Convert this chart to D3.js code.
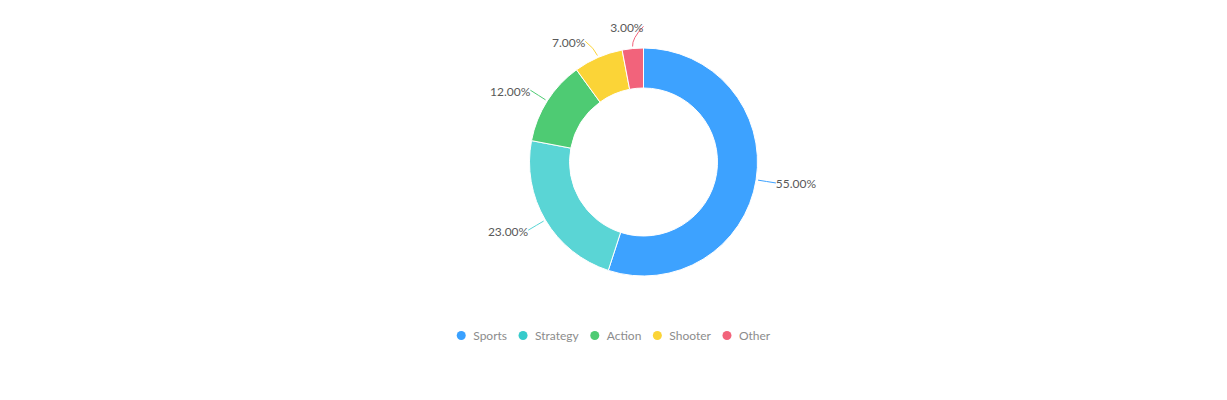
<!DOCTYPE html>
<html>
<head>
<meta charset="utf-8">
<script src="https://cdn.jsdelivr.net/npm/d3@7"></script>
<style>
body { margin: 0; background: #fff; }
text { font-family: "Segoe UI", Lato, "Noto Sans", sans-serif; }
</style>
</head>
<body>
<div id="chart"></div>
<script>
// data
var categories = ["Sports", "Strategy", "Action", "Shooter", "Other"];
var shares = [55, 23, 12, 7, 3];
var sliceColors = ["#3DA2FF", "#5AD5D5", "#4ECB73", "#FBD437", "#F2637B"];
var legendColors = ["#3AA1FF", "#36CBCB", "#4ECB73", "#FBD437", "#F2637B"];

var width = 1227, height = 400;
var cx = 643.5, cy = 162;
var outerR = 114, innerR = 74;
var labelR = 134;

var svg = d3.select("#chart").append("svg")
    .attr("width", width).attr("height", height);

var data = categories.map(function(c, i){ return {name: c, value: shares[i], idx: i}; });

var pie = d3.pie().sort(null).value(function(d){ return d.value; });
var arc = d3.arc().innerRadius(innerR).outerRadius(outerR);
var arcs = pie(data);

var g = svg.append("g").attr("transform", "translate(" + cx + "," + cy + ")");

g.selectAll("path.slice").data(arcs).enter().append("path")
    .attr("class", "slice")
    .attr("d", arc)
    .attr("fill", function(d){ return sliceColors[d.data.idx]; })
    .attr("stroke", "#fff")
    .attr("stroke-width", 1);

// label positions
var labels = arcs.map(function(d){
    var a = (d.startAngle + d.endAngle) / 2;
    return {d: d, a: a, x: labelR * Math.sin(a), y: -labelR * Math.cos(a), right: Math.sin(a) >= 0};
});

// push apart overlapping labels on each side, then put x back on the circle
var gap = 15;
[true, false].forEach(function(side){
    var ls = labels.filter(function(l){ return l.right == side; }).sort(function(a, b){ return a.y - b.y; });
    for(var it = 0; it < 20; it++)
    {
        for(var i = 1; i < ls.length; i++)
        {
            var diff = ls[i].y - ls[i-1].y;
            if(diff < gap)
            {
                var m = (gap - diff) / 2;
                ls[i].y += m;
                ls[i-1].y -= m;
            }
        }
    }
    ls.forEach(function(l){
        var dx = Math.sqrt(Math.max(0, labelR * labelR - l.y * l.y));
        l.x = side ? dx : -dx;
    });
});

g.selectAll("path.lline").data(labels).enter().append("path")
    .attr("class", "lline")
    .attr("fill", "none")
    .attr("stroke", function(l){ return sliceColors[l.d.data.idx]; })
    .attr("stroke-width", 1)
    .attr("d", function(l){
        var r0 = outerR + 2, r1 = outerR + 10;
        var p = d3.path();
        p.moveTo(r0 * Math.sin(l.a), -r0 * Math.cos(l.a));
        p.quadraticCurveTo(r1 * Math.sin(l.a), -r1 * Math.cos(l.a), l.x, l.y);
        return p.toString();
    });

g.selectAll("text.lbl").data(labels).enter().append("text")
    .attr("class", "lbl")
    .attr("x", function(l){ return l.x; })
    .attr("y", function(l){ return l.y; })
    .attr("dy", "0.45em")
    .attr("text-anchor", function(l){ return l.right ? "start" : "end"; })
    .attr("font-size", 12)
    .attr("fill", "#595959")
    .text(function(l){ return d3.format(".2f")(l.d.data.value) + "%"; });

// legend, centred on the page
var legend = svg.append("g").attr("class", "legend");
var items = legend.selectAll("g.item").data(data).enter().append("g").attr("class", "item");
items.append("circle")
    .attr("r", 4.5)
    .attr("fill", function(d){ return legendColors[d.idx]; });
items.append("text")
    .attr("x", 12)
    .attr("dy", "0.4em")
    .attr("font-size", 12)
    .attr("fill", "#8C8C8C")
    .text(function(d){ return d.name; });

var xpos = 0;
items.each(function(d){
    var w = d3.select(this).select("text").node().getComputedTextLength();
    d3.select(this).attr("transform", "translate(" + xpos + ",0)");
    xpos += 12 + w + 16;
});
var total = xpos - 16 + 4.5;
legend.attr("transform", "translate(" + (width / 2 - total / 2 + 4.5) + ",335.5)");
</script>
</body>
</html>
